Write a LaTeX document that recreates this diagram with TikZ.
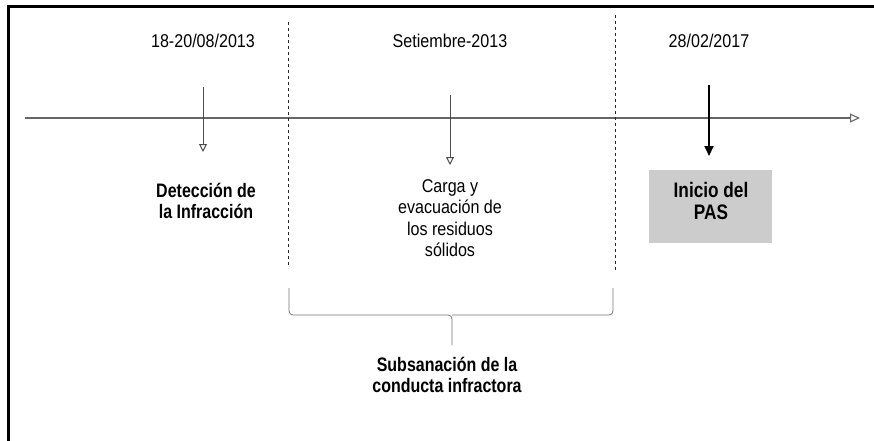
\documentclass[tikz,border=0pt]{standalone}
\usepackage{fontspec}
\setmainfont{Liberation Sans}[FakeStretch=0.87,BoldFeatures={FakeStretch=0.82}]
\usetikzlibrary{arrows.meta}
\begin{document}
\begin{tikzpicture}[x=1pt,y=-1pt,
  datelbl/.style={font=\fontsize{18.5}{21.5}\selectfont, inner sep=0pt, anchor=base},
  reglbl/.style={font=\fontsize{18.5}{21.5}\selectfont, align=center, inner sep=0pt},
  boldlbl/.style={font=\fontsize{19.5}{21}\selectfont\bfseries, align=center, inner sep=0pt},
  graytip/.style={-{Triangle[open,length=8pt,width=8pt]}, draw=black!70, line width=1pt},
  divider/.style={draw=black!85, line width=1pt, dash pattern=on 3pt off 3pt},
  bracestyle/.style={draw=black!55, line width=0.8pt, rounded corners=4pt}]
\useasboundingbox (0,0) rectangle (874,441);
% frame
\draw[line width=3pt] (8,441) -- (8,7) -- (874,7);
% timeline
\coordinate (tl0) at (25,118);
\coordinate (tl1) at (860,118);
\draw[draw=black!60, line width=1.1pt, -{Triangle[open,length=10pt,width=9pt]}] (tl0) -- (tl1);
% dividers
\coordinate (v1a) at (288,22); \coordinate (v1b) at (288,268);
\coordinate (v2a) at (615,15); \coordinate (v2b) at (615,270);
\draw[divider] (v1a) -- (v1b);
\draw[divider] (v2a) -- (v2b);
% dates
\node[datelbl] (d1) at (203,48) {18-20/08/2013};
\node[datelbl] (d2) at (450,48) {Setiembre-2013};
\node[datelbl] (d3) at (709,48) {28/02/2017};
% arrows
\coordinate (a1s) at (203,87); \coordinate (a1e) at (203,152);
\coordinate (a2s) at (450,95); \coordinate (a2e) at (450,165);
\coordinate (a3s) at (709,85); \coordinate (a3e) at (709,156);
\draw[graytip] (a1s) -- (a1e);
\draw[graytip] (a2s) -- (a2e);
\draw[line width=2pt, -{Triangle[length=10pt,width=9pt]}] (a3s) -- (a3e);
% labels
\node[boldlbl] (l1) at (206,201) {Detección de\\la Infracción};
\node[reglbl] (l2) at (450,218) {Carga y\\evacuación de\\los residuos\\sólidos};
\node[fill=black!20, minimum width=123pt, minimum height=73pt, inner sep=0pt] (pasbox) at (710.5,206.5) {};
\node[font=\fontsize{21}{22.5}\selectfont\bfseries, align=center, inner sep=0pt] (pas) at (711,201) {Inicio del\\PAS};
% brace
\coordinate (b0) at (289,288);
\coordinate (b1) at (613,288);
\coordinate (btip) at (452,345);
\draw[bracestyle] (b0) -- (289,315) -- (452,315) -- (btip);
\draw[bracestyle] (b1) -- (613,315) -- (452,315);
\node[boldlbl] (l3) at (447,375) {Subsanación de la\\conducta infractora};
\end{tikzpicture}
\end{document}
